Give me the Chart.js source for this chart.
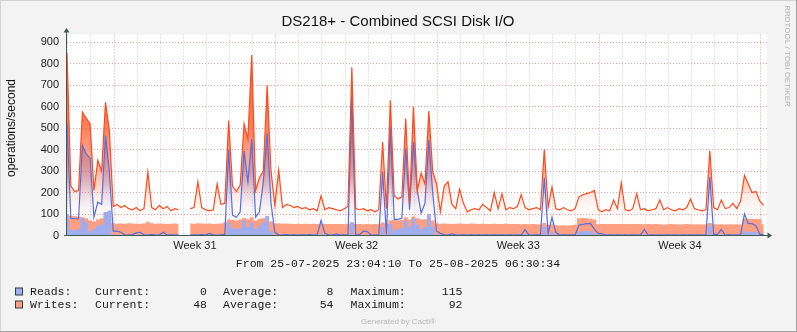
<!DOCTYPE html>
<html>
<head>
<meta charset="utf-8">
<title>DS218+ - Combined SCSI Disk I/O</title>
<script src="https://cdn.jsdelivr.net/npm/chart.js@4.4.1/dist/chart.umd.min.js"></script>
<style>
	html, body { margin: 0; padding: 0; background: #f3f3f3; }
	canvas { display: block; }
</style>
</head>
<body>
<canvas id="diskChart" width="797" height="332"></canvas>
<script>
// samples every 4 hours, first one at 25-07-2025 23:04:10
const stepHours = 4;
const spanHours = 727.44; // up to 25-08-2025 06:30:34
const firstMidnight = 0.9306; // 26-07 00:00, hours after start
const firstMonday = 2; // 28-07 is the third midnight
const weekLabels = ["Week 31", "Week 32", "Week 33", "Week 34"];
const yLabels = [0, 100, 200, 300, 400, 500, 600, 700, 800, 900];
const yMax = 936;

// max per sample (lines)
const writesMax = [
	850, 230, 205, 210, 575, 545, 520, 210, 350, 300,
	620, 490, 135, 145, 130, 140, 125, 120, 130, 115,
	125, 295, 130, 120, 140, 125, 135, 115, 125, 120,
	null, null, 125, 130, 250, 130, 120, 115, 120, 240,
	145, 150, 535, 230, 205, 235, 520, 450, 840, 210,
	270, 300, 700, 300, 140, 305, 130, 145, 140, 130,
	135, 125, 130, 120, 125, 115, 185, 120, 130, 125,
	120, 115, 125, 135, 783, 125, 120, 125, 115, 120,
	110, 120, 435, 125, 630, 185, 170, 180, 545, 150,
	600, 210, 290, 240, 580, 300, 240, 110, 230, 250,
	145, 125, 215, 150, 110, 120, 125, 120, 145, 130,
	115, 200, 125, 195, 120, 130, 125, 135, 190, 130,
	120, 125, 130, 120, 400, 130, 225, 125, 120, 130,
	120, 115, 125, 180, 190, 195, 200, 210, 120, 110,
	120, 115, 165, 125, 245, 120, 115, 125, 195, 120,
	125, 115, 120, 125, 165, 120, 130, 120, 115, 125,
	120, 130, 170, 125, 120, 115, 120, 395, 130, 120,
	165, 125, 130, 150, 125, 160, 280, 240, 200, 205,
	160, 140
];
const readsMax = [
	520, 80, 78, 78, 420, 380, 360, 85, 155, 145,
	465, 300, 20, 20, 15, 3, 2, 4, 12, 15,
	3, 2, 4, 2, 3, 15, 2, 3, 2, 3,
	null, null, 2, 3, 2, 4, 2, 10, 3, 2,
	3, 5, 400, 95, 85, 110, 395, 250, 450, 85,
	110, 250, 475, 150, 15, 3, 2, 4, 2, 3,
	2, 3, 2, 4, 2, 3, 70, 10, 3, 2,
	8, 2, 3, 2, 650, 3, 4, 20, 18, 3,
	2, 3, 295, 5, 505, 75, 75, 80, 405, 120,
	435, 210, 105, 150, 445, 200, 20, 10, 3, 2,
	8, 3, 2, 3, 2, 3, 2, 3, 2, 3,
	2, 3, 2, 3, 2, 3, 2, 3, 2, 28,
	3, 2, 3, 2, 270, 10, 85, 15, 2, 3,
	2, 3, 2, 48, 52, 55, 55, 30, 10, 8,
	2, 3, 2, 3, 2, 3, 2, 3, 2, 3,
	28, 2, 3, 2, 3, 2, 3, 2, 3, 2,
	3, 2, 3, 2, 3, 2, 3, 273, 5, 5,
	28, 2, 3, 2, 3, 2, 100, 55, 55, 45,
	5, 5
];

// averages per sample (areas)
const writesAvg = [
	85, 92, 90, 88, 85, 80, 70, 65, 75, 80,
	90, 85, 58, 55, 56, 55, 57, 56, 55, 54,
	56, 64, 57, 55, 56, 55, 54, 55, 56, 55,
	null, null, 56, 55, 57, 56, 55, 56, 54, 55,
	56, 60, 75, 72, 70, 74, 82, 76, 85, 70,
	78, 80, 90, 65, 56, 57, 55, 56, 55, 54,
	55, 54, 55, 54, 55, 53, 55, 54, 53, 54,
	53, 54, 52, 53, 62, 54, 53, 52, 53, 52,
	53, 52, 60, 55, 70, 72, 70, 72, 85, 75,
	88, 80, 74, 76, 90, 70, 56, 55, 56, 55,
	54, 55, 56, 55, 54, 56, 55, 54, 55, 53,
	54, 55, 53, 54, 55, 53, 54, 53, 52, 53,
	52, 53, 52, 51, 58, 50, 52, 48, 47, 48,
	47, 48, 50, 80, 82, 80, 78, 75, 52, 53,
	54, 53, 54, 53, 54, 53, 52, 53, 54, 53,
	52, 53, 52, 53, 52, 51, 52, 53, 52, 51,
	52, 53, 52, 51, 52, 51, 52, 58, 52, 51,
	52, 51, 52, 51, 52, 51, 78, 78, 77, 77,
	76, 52
];
const readsAvg = [
	100, 28, 25, 30, 80, 60, 20, 30, 45, 50,
	110, 115, 5, 4, 3, 2, 3, 2, 3, 4,
	2, 5, 3, 2, 3, 2, 4, 2, 3, 2,
	null, null, 3, 2, 4, 2, 3, 2, 4, 2,
	3, 5, 60, 35, 30, 35, 70, 40, 60, 30,
	45, 60, 90, 20, 4, 3, 2, 3, 2, 3,
	2, 3, 2, 3, 2, 3, 10, 3, 2, 3,
	2, 3, 2, 3, 60, 3, 2, 4, 3, 2,
	3, 2, 40, 3, 55, 25, 30, 35, 70, 40,
	80, 50, 30, 40, 100, 40, 4, 3, 2, 3,
	3, 2, 3, 2, 3, 2, 3, 2, 3, 2,
	3, 2, 3, 2, 3, 2, 3, 2, 3, 8,
	2, 3, 2, 3, 40, 3, 15, 3, 2, 3,
	2, 3, 2, 18, 20, 22, 20, 10, 3, 2,
	3, 2, 3, 2, 3, 2, 3, 2, 3, 2,
	6, 2, 3, 2, 3, 2, 3, 2, 3, 2,
	3, 2, 3, 2, 3, 2, 3, 45, 3, 2,
	6, 2, 3, 2, 3, 2, 20, 18, 18, 16,
	3, 2
];

// legend table
const legendNames = ["Reads:", "Writes:"];
const legendCurrent = [0, 48];
const legendAverage = [8, 54];
const legendMaximum = [115, 92];

const readsColor = "#a0aef2";
const writesColor = "#ffa083";
const readsLine = "#4f6fe6";
const writesLine = "#ff4a1c";
const majorGrid = "rgba(225, 80, 80, 0.55)";
const minorGrid = "rgba(150, 150, 150, 0.5)";
const axisColor = "#3f5a52";
const sans = "'Liberation Sans', Arial, sans-serif";
const mono = "'Liberation Mono', 'DejaVu Sans Mono', monospace";

const toPoints = (values) => values.map((v, i) => ({ x: i * stepHours, y: v }));

// vertical fade under the max lines
function fade(rgb, alpha) {
	return (context) => {
		const chart = context.chart;
		const area = chart.chartArea;
		if (!area) return null;
		const g = chart.ctx.createLinearGradient(0, area.top, 0, area.bottom);
		g.addColorStop(0, `rgba(${rgb}, ${alpha})`);
		g.addColorStop(0.45, `rgba(${rgb}, ${alpha * 0.8})`);
		g.addColorStop(0.7, `rgba(${rgb}, ${alpha * 0.4})`);
		g.addColorStop(0.8, `rgba(${rgb}, 0.12)`);
		g.addColorStop(0.86, `rgba(${rgb}, 0.04)`);
		g.addColorStop(1, `rgba(${rgb}, 0)`);
		return g;
	};
}

// background, frame, axes and all the text around the plot
const decorations = {
	id: "decorations",
	beforeDraw(chart) {
		const { ctx, chartArea: a, width, height } = chart;
		ctx.save();
		ctx.fillStyle = "#f3f3f3";
		ctx.fillRect(0, 0, width, height);
		ctx.fillStyle = "#ffffff";
		ctx.fillRect(a.left, a.top, a.right - a.left, a.bottom - a.top);
		ctx.fillStyle = "#d2d2d2";
		ctx.fillRect(0, 0, width, 1);
		ctx.fillRect(0, 0, 1, height);
		ctx.fillStyle = "#a2a2a2";
		ctx.fillRect(0, height - 1, width, 1);
		ctx.fillRect(width - 1, 0, 1, height);
		ctx.restore();
	},
	afterDraw(chart) {
		const { ctx, chartArea: a } = chart;
		ctx.save();

		// axes with arrow heads
		ctx.strokeStyle = axisColor;
		ctx.fillStyle = axisColor;
		ctx.lineWidth = 1;
		ctx.beginPath();
		ctx.moveTo(a.left - 0.5, a.bottom);
		ctx.lineTo(a.left - 0.5, a.top - 3);
		ctx.moveTo(a.left - 3, a.bottom);
		ctx.lineTo(a.right + 1, a.bottom);
		ctx.stroke();
		ctx.beginPath();
		ctx.moveTo(a.left - 0.5, a.top - 6.5);
		ctx.lineTo(a.left - 3.5, a.top - 2);
		ctx.lineTo(a.left + 2.5, a.top - 2);
		ctx.closePath();
		ctx.fill();
		ctx.beginPath();
		ctx.moveTo(a.right + 5, a.bottom);
		ctx.lineTo(a.right + 0.5, a.bottom - 3);
		ctx.lineTo(a.right + 0.5, a.bottom + 3);
		ctx.closePath();
		ctx.fill();

		// title
		ctx.fillStyle = "#111";
		ctx.textAlign = "center";
		ctx.textBaseline = "middle";
		ctx.font = `15px ${sans}`;
		ctx.fillText("DS218+ - Combined SCSI Disk I/O", 398, 22);

		// vertical unit label
		ctx.save();
		ctx.translate(12, 128);
		ctx.rotate(-Math.PI / 2);
		ctx.font = `12px ${sans}`;
		ctx.fillText("operations/second", 0, 0);
		ctx.restore();

		// rrdtool watermark
		ctx.save();
		ctx.translate(787.5, 56);
		ctx.rotate(Math.PI / 2);
		ctx.fillStyle = "#b4b4b4";
		ctx.font = `8px ${sans}`;
		ctx.fillText("RRDTOOL / TOBI OETIKER", 0, 0);
		ctx.restore();

		// time range
		ctx.font = `11.5px ${mono}`;
		ctx.fillStyle = "#1a1a1a";
		ctx.fillText("From 25-07-2025 23:04:10 To 25-08-2025 06:30:34", 398, 263.5);

		// legend rows
		const rowY = [291.5, 304.5];
		const swatches = [readsColor, writesColor];
		legendNames.forEach((name, r) => {
			const y = rowY[r];
			ctx.fillStyle = swatches[r];
			ctx.fillRect(15.5, y - 3.5, 7, 7);
			ctx.strokeStyle = "#2f3f3c";
			ctx.strokeRect(15.5, y - 3.5, 7, 7);
			ctx.fillStyle = "#1a1a1a";
			ctx.textAlign = "left";
			ctx.fillText(name, 30, y);
			ctx.fillText("Current:", 95, y);
			ctx.fillText("Average:", 223, y);
			ctx.fillText("Maximum:", 350.5, y);
			ctx.textAlign = "right";
			ctx.fillText(String(legendCurrent[r]), 207, y);
			ctx.fillText(String(legendAverage[r]), 333.5, y);
			ctx.fillText(String(legendMaximum[r]), 462.5, y);
		});

		ctx.textAlign = "center";
		ctx.fillStyle = "#b8b8b8";
		ctx.font = `8px ${sans}`;
		ctx.fillText("Generated by Cacti®", 398.5, 321.5);
		ctx.restore();
	}
};

const ctx = document.getElementById("diskChart").getContext("2d");

// dataset 0 ends up on top
const diskChart = new Chart(ctx, {
	type: "line",
	data: {
		datasets: [
			{
				label: "Writes max",
				data: toPoints(writesMax),
				borderColor: writesLine,
				borderWidth: 1.2,
				backgroundColor: fade("255, 85, 35", 0.95),
				fill: "origin"
			},
			{
				label: "Reads max",
				data: toPoints(readsMax),
				borderColor: readsLine,
				borderWidth: 1.2,
				backgroundColor: fade("95, 125, 235", 0.85),
				fill: "origin"
			},
			{
				label: "Reads",
				data: toPoints(readsAvg),
				borderWidth: 0,
				backgroundColor: readsColor,
				fill: "origin",
				stepped: "middle"
			},
			{
				label: "Writes",
				data: toPoints(writesAvg),
				borderWidth: 0,
				backgroundColor: writesColor,
				fill: "origin",
				stepped: "middle"
			}
		]
	},
	options: {
		responsive: false,
		animation: false,
		devicePixelRatio: 1,
		spanGaps: false,
		layout: { padding: { top: 34.5, right: 30, left: 0, bottom: 0 } },
		elements: {
			point: { radius: 0 },
			line: { tension: 0 }
		},
		plugins: {
			legend: { display: false },
			tooltip: { enabled: false },
			title: { display: false },
			filler: { drawTime: "beforeDatasetsDraw" }
		},
		scales: {
			x: {
				type: "linear",
				min: 0,
				max: spanHours,
				afterFit(scale) { scale.height = 96.5; },
				afterBuildTicks(scale) {
					const ticks = [];
					for (let t = firstMidnight; t < spanHours; t += 24) ticks.push({ value: t });
					weekLabels.forEach((w, k) => {
						ticks.push({ value: firstMidnight + (firstMonday + 7 * k + 3.5) * 24 });
					});
					ticks.sort((p, q) => p.value - q.value);
					scale.ticks = ticks;
				},
				grid: {
					drawTicks: false,
					lineWidth: 1,
					color(c) {
						const d = (c.tick.value - firstMidnight) / 24;
						if (Math.abs(d - Math.round(d)) > 0.01) return "rgba(0,0,0,0)";
						return (Math.round(d) - firstMonday) % 7 === 0 ? majorGrid : minorGrid;
					}
				},
				border: { display: false, dash: [1, 2] },
				ticks: {
					autoSkip: false,
					maxRotation: 0,
					padding: 4,
					color: "#222",
					font: { family: sans, size: 11 },
					callback(value) {
						const d = (value - firstMidnight) / 24 - firstMonday - 3.5;
						const k = Math.round(d / 7);
						if (Math.abs(d - k * 7) < 0.01 && weekLabels[k]) return weekLabels[k];
						return "";
					}
				}
			},
			y: {
				min: 0,
				max: yMax,
				afterFit(scale) { scale.width = 67; },
				afterBuildTicks(scale) {
					const ticks = [];
					yLabels.forEach((v) => {
						ticks.push({ value: v });
						if (v + 50 < yMax) ticks.push({ value: v + 50 });
					});
					scale.ticks = ticks;
				},
				grid: {
					drawTicks: false,
					lineWidth: 1,
					color(c) {
						return yLabels.includes(c.tick.value) ? majorGrid : minorGrid;
					}
				},
				border: { display: false, dash: [1, 2] },
				ticks: {
					padding: 8,
					color: "#222",
					font: { family: sans, size: 11 },
					callback(value) {
						return yLabels.includes(value) ? String(value) : "";
					}
				}
			}
		}
	},
	plugins: [decorations]
});
</script>
</body>
</html>
